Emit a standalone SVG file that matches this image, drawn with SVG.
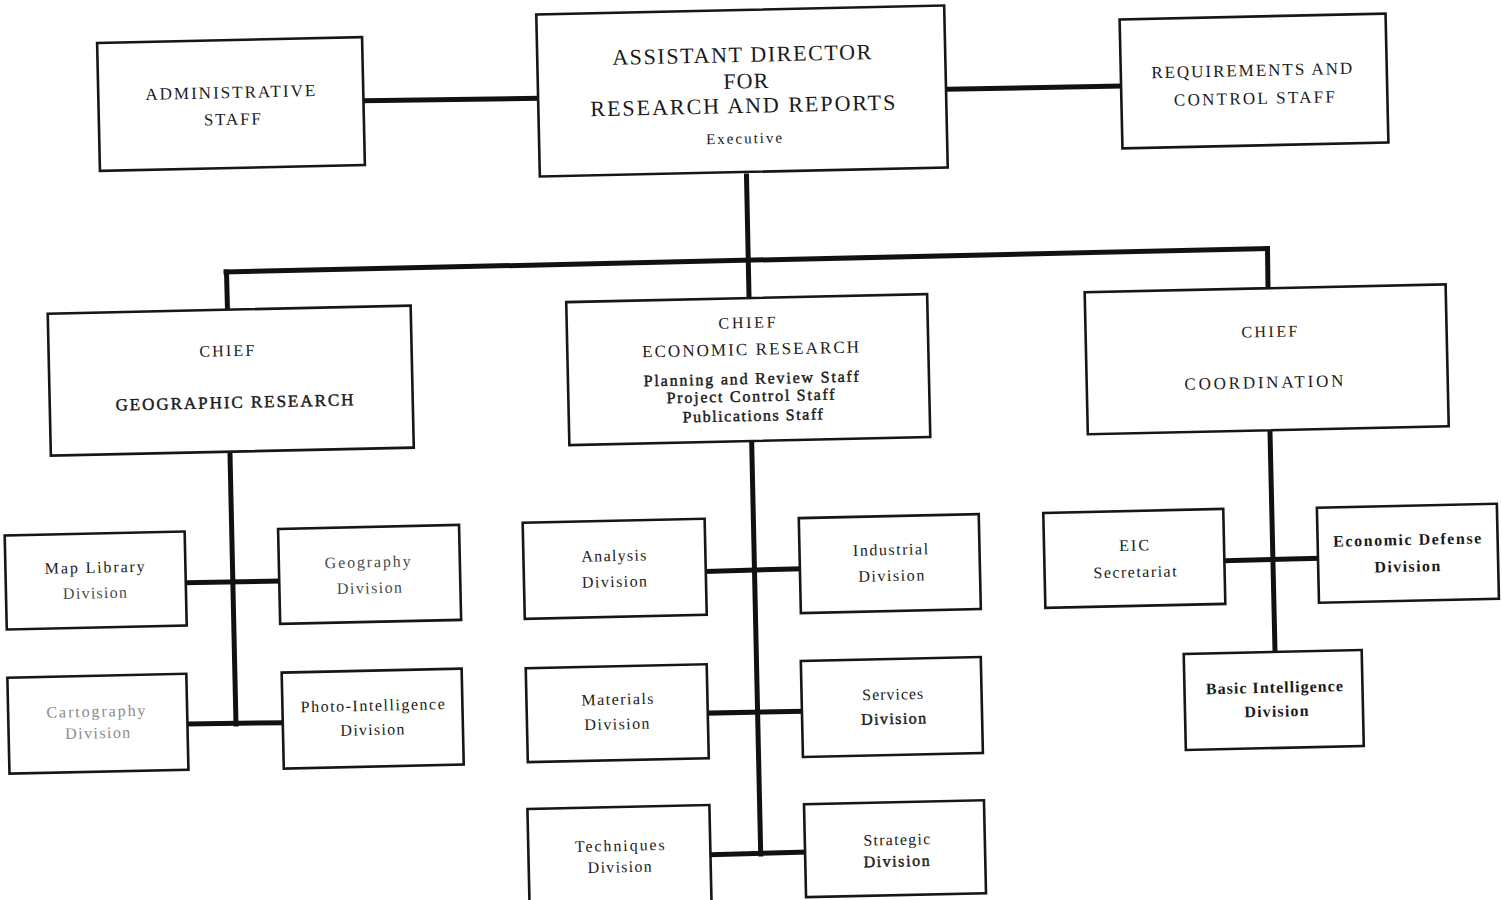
<svg xmlns="http://www.w3.org/2000/svg" width="1502" height="900" viewBox="0 0 1502 900">
<style>
.bg{fill:#ffffff}
.box{fill:#ffffff;stroke:#161616;stroke-width:2.6}
.ln{stroke:#111111;stroke-width:5;stroke-linecap:square;fill:none}
text{font-family:"Liberation Serif","DejaVu Serif",serif;fill:#1a1a1a;text-anchor:middle}
.t22{font-size:22px}
.t17{font-size:17px}
.t16{font-size:16px}
.t15{font-size:15px}
.b{font-weight:bold}
.m{stroke:#1a1a1a;stroke-width:0.45}
.g1{fill:#4a4a4a}
.g2{fill:#8a8a8a}
</style>
<rect class="bg" x="0" y="0" width="1502" height="900"/>

<g id="connectors">
<path class="ln" d="M364 100.7 L537 98.3"/>
<path class="ln" d="M948 89.3 L1119.6 86"/>
<path class="ln" d="M746.5 176 L749 296"/>
<path class="ln" d="M226 272 L1267.5 248.5"/>
<path class="ln" d="M226.5 272 L227.5 310"/>
<path class="ln" d="M1267.5 248.5 L1268 287"/>
<path class="ln" d="M230 454 L236 724"/>
<path class="ln" d="M186 582.7 L279 581"/>
<path class="ln" d="M188 724 L282.5 722.7"/>
<path class="ln" d="M751.7 443 L760.7 854"/>
<path class="ln" d="M706 571.4 L800 568.7"/>
<path class="ln" d="M709 713.1 L802 711.2"/>
<path class="ln" d="M711 854.8 L806 852.1"/>
<path class="ln" d="M1270 432 L1275 651"/>
<path class="ln" d="M1225.5 560.7 L1318 558.3"/>
</g>

<g id="admin" transform="rotate(-1.27 231 104)">
<rect class="box" x="98.5" y="40" width="265" height="128"/>
<text class="t17" x="230.5" y="98" textLength="170" lengthAdjust="spacing">ADMINISTRATIVE</text>
<text class="t17" x="232" y="125" textLength="57" lengthAdjust="spacing">STAFF</text>
</g>

<g id="assistant-director" transform="rotate(-1.27 742 91)">
<rect class="box" x="538" y="10" width="408" height="162"/>
<text class="t22" x="742.5" y="62" textLength="259" lengthAdjust="spacing">ASSISTANT DIRECTOR</text>
<text class="t22" x="746" y="88.5" textLength="45" lengthAdjust="spacing">FOR</text>
<text class="t22" x="742.5" y="113" textLength="305" lengthAdjust="spacing">RESEARCH AND REPORTS</text>
<text class="t15" x="743" y="143.5" textLength="76" lengthAdjust="spacing">Executive</text>
</g>

<g id="requirements" transform="rotate(-1.27 1254 81)">
<rect class="box" x="1121" y="16.5" width="266" height="129"/>
<text class="t17" x="1252" y="76" textLength="201" lengthAdjust="spacing">REQUIREMENTS AND</text>
<text class="t17" x="1254" y="104" textLength="161" lengthAdjust="spacing">CONTROL STAFF</text>
</g>

<g id="chief-geographic" transform="rotate(-1.27 230.75 380.65)">
<rect class="box" x="49.25" y="309.65" width="363" height="142"/>
<text class="t16" x="227.5" y="356" textLength="55" lengthAdjust="spacing">CHIEF</text>
<text class="t17 m" x="234" y="408" textLength="238" lengthAdjust="spacing">GEOGRAPHIC RESEARCH</text>
</g>

<g id="chief-economic" transform="rotate(-1.27 748.25 369.6)">
<rect class="box" x="567.75" y="298.1" width="361" height="143"/>
<text class="t16" x="748" y="328" textLength="57" lengthAdjust="spacing">CHIEF</text>
<text class="t17" x="751" y="355" textLength="217" lengthAdjust="spacing">ECONOMIC RESEARCH</text>
<text class="t16 m" x="751" y="384" textLength="215" lengthAdjust="spacing">Planning and Review Staff</text>
<text class="t16 m" x="750" y="401.5" textLength="168" lengthAdjust="spacing">Project Control Staff</text>
<text class="t16 m" x="751.7" y="421" textLength="140" lengthAdjust="spacing">Publications Staff</text>
</g>

<g id="chief-coordination" transform="rotate(-1.27 1266.7 359.3)">
<rect class="box" x="1086.2" y="288.3" width="361" height="142"/>
<text class="t16" x="1270" y="337" textLength="56" lengthAdjust="spacing">CHIEF</text>
<text class="t17" x="1263.4" y="388" textLength="159" lengthAdjust="spacing">COORDINATION</text>
</g>

<g id="map-library" transform="rotate(-1.27 95.7 580.5)">
<rect class="box" x="5.7" y="533.5" width="180" height="94"/>
<text class="t16" x="95" y="572.7" textLength="100" lengthAdjust="spacing">Map Library</text>
<text class="t16 g1" x="94.7" y="598.3" textLength="64" lengthAdjust="spacing">Division</text>
</g>

<g id="geography" transform="rotate(-1.27 369.6 574.4)">
<rect class="box" x="279.1" y="526.9" width="181" height="95"/>
<text class="t16 g1" x="367.9" y="567.3" textLength="86" lengthAdjust="spacing">Geography</text>
<text class="t16 g1" x="369.2" y="593.3" textLength="65" lengthAdjust="spacing">Division</text>
</g>

<g id="cartography" transform="rotate(-1.27 97.9 723.7)">
<rect class="box" x="8.4" y="675.7" width="179" height="96"/>
<text class="t16 g2" x="96.2" y="716.7" textLength="99" lengthAdjust="spacing">Cartography</text>
<text class="t16 g2" x="97.5" y="738.3" textLength="65" lengthAdjust="spacing">Division</text>
</g>

<g id="photo-intelligence" transform="rotate(-1.27 372.7 718.6)">
<rect class="box" x="282.7" y="670.6" width="180" height="96"/>
<text class="t16" x="373" y="710.7" textLength="144" lengthAdjust="spacing">Photo-Intelligence</text>
<text class="t16" x="372.2" y="735" textLength="64" lengthAdjust="spacing">Division</text>
</g>

<g id="analysis" transform="rotate(-1.27 614.7 568.8)">
<rect class="box" x="523.7" y="520.8" width="182" height="96"/>
<text class="t16" x="614.2" y="561" textLength="65" lengthAdjust="spacing">Analysis</text>
<text class="t16" x="614.2" y="587" textLength="65" lengthAdjust="spacing">Division</text>
</g>

<g id="industrial" transform="rotate(-1.27 889.8 563.6)">
<rect class="box" x="799.8" y="516.1" width="180" height="95"/>
<text class="t16" x="890.8" y="555" textLength="75" lengthAdjust="spacing">Industrial</text>
<text class="t16" x="891" y="581" textLength="66" lengthAdjust="spacing">Division</text>
</g>

<g id="materials" transform="rotate(-1.27 617.25 713.2)">
<rect class="box" x="526.75" y="666.2" width="181" height="94"/>
<text class="t16" x="617.8" y="704.6" textLength="72" lengthAdjust="spacing">Materials</text>
<text class="t16" x="616.7" y="729.4" textLength="65" lengthAdjust="spacing">Division</text>
</g>

<g id="services" transform="rotate(-1.27 891.85 707)">
<rect class="box" x="801.85" y="659" width="180" height="96"/>
<text class="t16" x="893" y="699.6" textLength="61" lengthAdjust="spacing">Services</text>
<text class="t16 m" x="893.3" y="724" textLength="65" lengthAdjust="spacing">Division</text>
</g>

<g id="techniques" transform="rotate(-1.27 619.5 857)">
<rect class="box" x="528.5" y="807" width="182" height="100"/>
<text class="t16" x="620" y="851" textLength="90" lengthAdjust="spacing">Techniques</text>
<text class="t16" x="619.5" y="872.3" textLength="64" lengthAdjust="spacing">Division</text>
</g>

<g id="strategic" transform="rotate(-1.27 895 848.7)">
<rect class="box" x="805" y="802.2" width="180" height="93"/>
<text class="t16" x="897" y="845" textLength="67" lengthAdjust="spacing">Strategic</text>
<text class="t16 m" x="896.3" y="866.5" textLength="66" lengthAdjust="spacing">Division</text>
</g>

<g id="eic-secretariat" transform="rotate(-1.27 1134.3 558.4)">
<rect class="box" x="1044.3" y="510.9" width="180" height="95"/>
<text class="t16" x="1134.3" y="550.7" textLength="30" lengthAdjust="spacing">EIC</text>
<text class="t16" x="1134.7" y="577.3" textLength="83" lengthAdjust="spacing">Secretariat</text>
</g>

<g id="economic-defense" transform="rotate(-1.27 1407.9 553.25)">
<rect class="box" x="1317.9" y="505.75" width="180" height="95"/>
<text class="t16 b" x="1407.5" y="545" textLength="148" lengthAdjust="spacing">Economic Defense</text>
<text class="t16 b" x="1407" y="571.7" textLength="66" lengthAdjust="spacing">Division</text>
</g>

<g id="basic-intelligence" transform="rotate(-1.27 1273.75 700)">
<rect class="box" x="1184.75" y="652" width="178" height="96"/>
<text class="t16 b" x="1274.7" y="692.7" textLength="137" lengthAdjust="spacing">Basic Intelligence</text>
<text class="t16 b" x="1276.2" y="716.7" textLength="64" lengthAdjust="spacing">Division</text>
</g>
</svg>
